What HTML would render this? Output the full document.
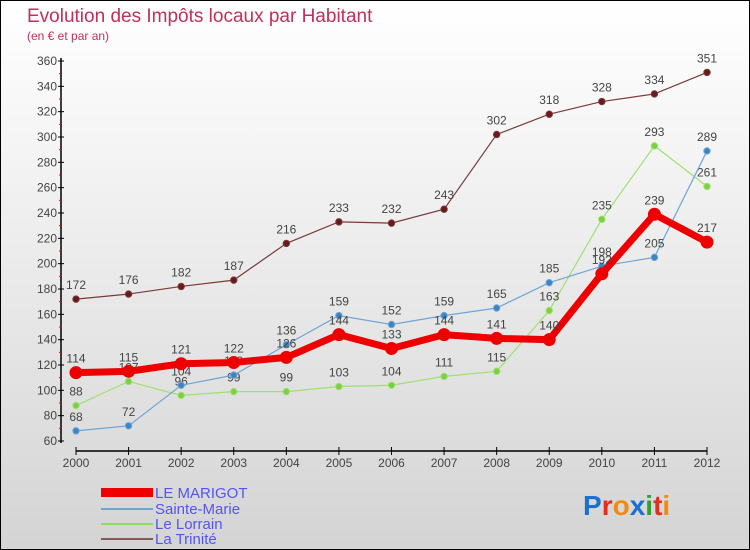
<!DOCTYPE html>
<html><head><meta charset="utf-8"><style>
body{margin:0}
#c{width:750px;height:550px;position:relative;background:linear-gradient(#ffffff,#f3f3f3 30%,#d4d4d4);box-sizing:border-box;border:1px solid #000;font-family:"Liberation Sans",sans-serif;overflow:hidden}
</style></head><body>
<div id="c">
<svg id="s" width="750" height="550" style="position:absolute;left:0;top:0">
<text x="26" y="21" font-size="19" fill="#c0305a">Evolution des Impôts locaux par Habitant</text>
<text x="26" y="39" font-size="12" fill="#c0305a">(en € et par an)</text>
<g id="axes"></g><g id="series"></g>
<g>
<rect x="100" y="487" width="52" height="9" fill="#e00"/>
<line x1="100" y1="508" x2="152" y2="508" stroke="#6fa5d5" stroke-width="2"/>
<line x1="100" y1="523" x2="152" y2="523" stroke="#8fdc5f" stroke-width="2"/>
<line x1="100" y1="538" x2="152" y2="538" stroke="#8a5a5a" stroke-width="2"/>
<g font-size="15" fill="#5555ee">
<text x="154" y="497">LE MARIGOT</text>
<text x="154" y="513">Sainte-Marie</text>
<text x="154" y="528">Le Lorrain</text>
<text x="154" y="543">La Trinité</text>
</g></g>
<text x="582" y="514" font-size="28" font-weight="bold"><tspan fill="#1a6fd0">P</tspan><tspan fill="#e03020">r</tspan><tspan fill="#f08a10">o</tspan><tspan fill="#1a6fd0">x</tspan><tspan fill="#30a030">i</tspan><tspan fill="#e03020">t</tspan><tspan fill="#f08a10">i</tspan></text>
</svg>
</div>
<script>
const years=[2000,2001,2002,2003,2004,2005,2006,2007,2008,2009,2010,2011,2012];
const marigot=[114,115,121,122,126,144,133,144,141,140,192,239,217];
const sainteMarie=[68,72,104,112,136,159,152,159,165,185,198,205,289];
const lorrain=[88,107,96,99,99,103,104,111,115,163,235,293,261];
const trinite=[172,176,182,187,216,233,232,243,302,318,328,334,351];
const yTicks=[60,80,100,120,140,160,180,200,220,240,260,280,300,320,340,360];
const NS="http://www.w3.org/2000/svg";
const x=i=>75+i*(706-75)/(years.length-1);
const y=v=>440-(v-60)*380/300;
function mk(t,a,p){const e=document.createElementNS(NS,t);for(const k in a)e.setAttribute(k,a[k]);p.appendChild(e);return e;}
const ax=document.getElementById('axes');
let l=mk('line',{x1:60,y1:57,x2:60,y2:442,stroke:'#000','stroke-width':1.5},ax);


l=mk('line',{x1:75,y1:450,x2:706,y2:450,stroke:'#000','stroke-width':1.5},ax);


yTicks.forEach((v,i)=>{
 mk('line',{x1:57,y1:y(v),x2:63,y2:y(v),stroke:'#000'},ax);
 if(i<yTicks.length-1)mk('line',{x1:58,y1:y(v+10),x2:61,y2:y(v+10),stroke:'#e00'},ax);
 const t=mk('text',{x:56,y:y(v)+4,'text-anchor':'end','font-size':12,fill:'#444'},ax);t.textContent=v;
 
 
});
years.forEach((yr,i)=>{
 mk('line',{x1:x(i),y1:446,x2:x(i),y2:454,stroke:'#000'},ax);
 const t=mk('text',{x:x(i),y:466,'text-anchor':'middle','font-size':12,fill:'#444'},ax);t.textContent=yr;
 
 
});
const sg=document.getElementById('series');
function series(d,name,col,dot,w,r,lab){
 const g=mk('g',{},sg);
 
 
 const p=mk('polyline',{points:d.map((v,i)=>x(i)+','+y(v)).join(' '),fill:'none',stroke:col,'stroke-width':w},g);
 d.forEach((v,i)=>{
  const c=mk('circle',{cx:x(i),cy:y(v),r:r,fill:dot,stroke:col,'stroke-width':1},g);
  
  
  const t=mk('text',{x:x(i),y:y(v)-10,'text-anchor':'middle','font-size':12,fill:'#444'},g);t.textContent=v;
  
  
 });
}
series(trinite,'series-la-trinite','#7a3a3a','#6a1a1a',1.2,3.2);
series(lorrain,'series-le-lorrain','#9fe070','#7ad040',1.2,3.2);
series(sainteMarie,'series-sainte-marie','#6fa5d5','#3a85c5',1.2,3.2);
series(marigot,'series-le-marigot','#ee0000','#ee0000',7,6);
</script>
</body></html>
